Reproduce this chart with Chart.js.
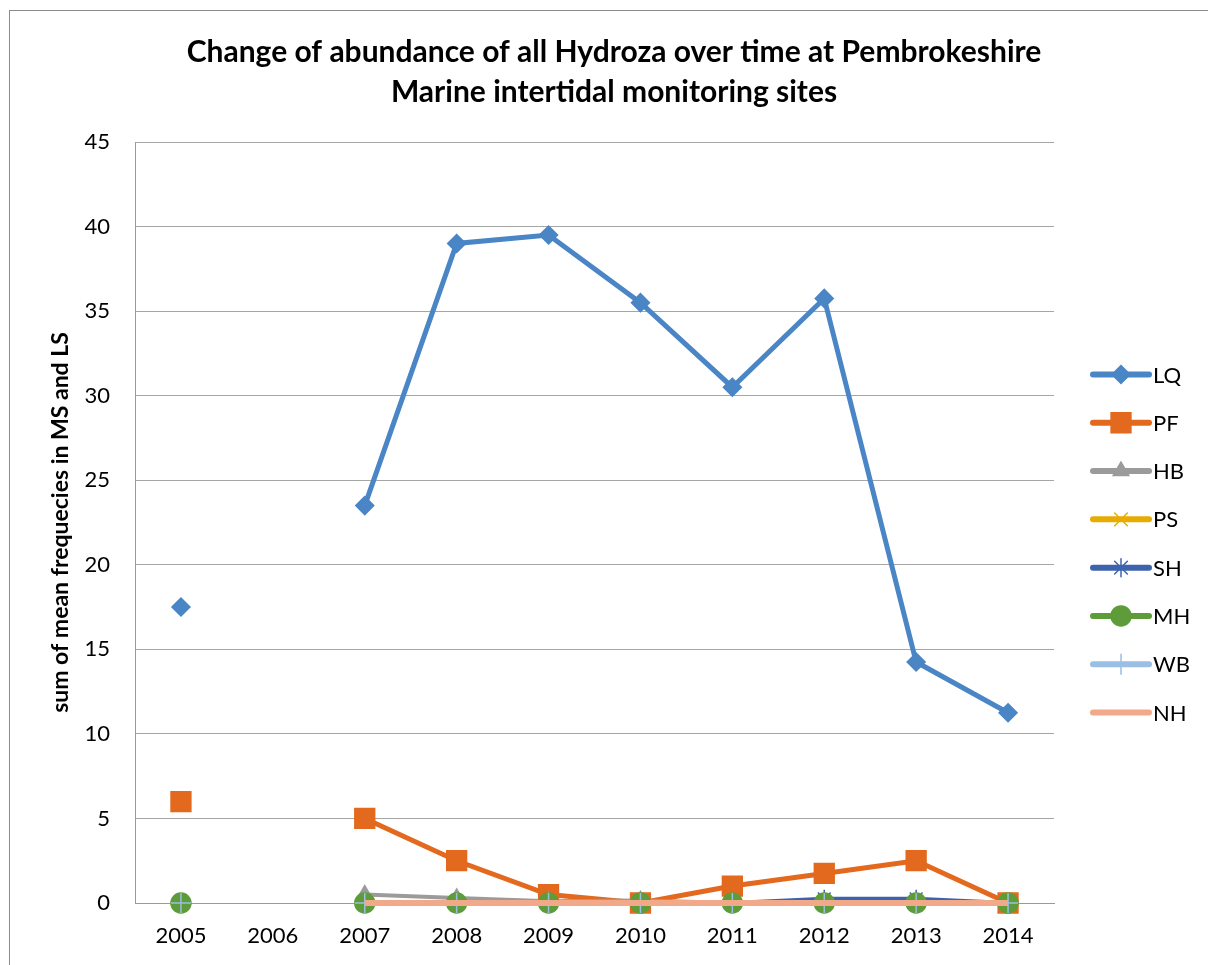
<!DOCTYPE html>
<html>
<head>
<meta charset="utf-8">
<title>Hydroza abundance</title>
<script src="https://cdn.jsdelivr.net/npm/chart.js@4.4.1/dist/chart.umd.min.js"></script>
<style>
  html, body { margin: 0; padding: 0; background: #fff; }
  canvas { display: block; }
</style>
</head>
<body>
<canvas id="chart" width="1208" height="965"></canvas>
<script>
// years on the x axis (2006 has no survey)
const years = ['2005', '2006', '2007', '2008', '2009', '2010', '2011', '2012', '2013', '2014'];

const LQ = [17.5, null, 23.5, 39, 39.5, 35.5, 30.5, 35.75, 14.25, 11.25];
const PF = [6, null, 5, 2.5, 0.5, 0, 1, 1.75, 2.5, 0];
const HB = [0, null, 0.5, 0.3, 0.1, 0.15, 0, 0, 0, 0];
const PS = [0, null, 0, 0, 0, 0, 0, 0, 0, 0];
const SH = [0, null, 0, 0, 0, 0, 0, 0.25, 0.25, 0];
const MH = [0, null, 0, 0, 0, 0, 0, 0, 0, 0];
const WB = [0, null, 0, 0, 0, 0, 0, 0, 0, 0];
const NH = [null, null, 0, 0, 0, 0, 0, 0, 0, 0];

const yTicks = [0, 5, 10, 15, 20, 25, 30, 35, 40, 45];

const FONT = 'Lato, "Open Sans", sans-serif';

function series(label, data, color, style, radius, width, order) {
    return {
        label: label,
        data: data,
        borderColor: color,
        backgroundColor: color,
        borderWidth: width,
        pointStyle: style,
        pointRadius: radius,
        pointHoverRadius: radius,
        pointBackgroundColor: color,
        pointBorderColor: color,
        pointBorderWidth: 1.5,
        spanGaps: false,
        tension: 0,
        clip: false,
        order: order
    };
}

// frame around the whole chart
const frame = {
    id: 'frame',
    beforeDraw(chart) {
        const ctx = chart.ctx;
        ctx.save();
        ctx.fillStyle = '#fff';
        ctx.fillRect(0, 0, chart.width, chart.height);
        ctx.strokeStyle = '#8c8c8c';
        ctx.lineWidth = 1;
        ctx.strokeRect(9.5, 10.5, chart.width + 20, chart.height + 20);
        ctx.restore();
    }
};

// excel style legend: line with marker in the middle
const lineLegend = {
    id: 'lineLegend',
    afterDraw(chart) {
        const ctx = chart.ctx;
        const area = chart.chartArea;
        const x0 = area.right + 39;
        const x1 = x0 + 56;
        const step = 48.3;
        const sets = chart.data.datasets;
        const top = (area.top + area.bottom) / 2 + 21 - step * (sets.length - 1) / 2;
        sets.forEach((ds, i) => {
            const y = top + i * step;
            ctx.save();
            ctx.strokeStyle = ds.borderColor;
            ctx.lineWidth = 6;
            ctx.lineCap = 'round';
            ctx.beginPath();
            ctx.moveTo(x0, y);
            ctx.lineTo(x1, y);
            ctx.stroke();
            if (ds.pointRadius > 0 && Chart.helpers && Chart.helpers.drawPoint) {
                ctx.fillStyle = ds.pointBackgroundColor;
                ctx.strokeStyle = ds.pointBorderColor;
                ctx.lineWidth = ds.pointBorderWidth;
                Chart.helpers.drawPoint(ctx, {
                    pointStyle: ds.pointStyle,
                    rotation: 0,
                    radius: ds.pointRadius,
                    borderWidth: ds.pointBorderWidth
                }, (x0 + x1) / 2, y);
            }
            ctx.fillStyle = '#000';
            ctx.font = '22px ' + FONT;
            ctx.textAlign = 'left';
            ctx.textBaseline = 'middle';
            ctx.fillText(ds.label, x1 + 4, y + 1);
            ctx.restore();
        });
    }
};

const ctx = document.getElementById('chart').getContext('2d');
const chart = new Chart(ctx, {
    type: 'line',
    data: {
        labels: years,
        datasets: [
            series('LQ', LQ, '#4A85C6', 'rectRot', 9, 5, 8),
            series('PF', PF, '#E2691D', 'rect', 14, 5, 7),
            series('HB', HB, '#9B9B9B', 'triangle', 9, 4, 6),
            series('PS', PS, '#E8AC00', 'crossRot', 9, 4, 5),
            series('SH', SH, '#3D63AE', 'star', 9, 4, 4),
            series('MH', MH, '#5E9C3A', 'circle', 10, 4, 3),
            series('WB', WB, '#9BBEE4', 'cross', 10, 4, 2),
            series('NH', NH, '#F2A98A', 'circle', 0, 6, 1)
        ]
    },
    options: {
        responsive: false,
        animation: false,
        layout: { padding: { left: 20, right: 0, top: 0, bottom: 0 } },
        plugins: {
            legend: { display: false },
            tooltip: { enabled: false },
            title: {
                display: true,
                text: ['Change of abundance of all Hydroza over time at Pembrokeshire',
                       'Marine intertidal monitoring sites'],
                color: '#000',
                font: { family: FONT, size: 30, weight: 'bold', lineHeight: 40 / 30 },
                padding: { top: 32, bottom: 30 }
            }
        },
        scales: {
            x: {
                type: 'category',
                offset: true,
                grid: { display: false, drawTicks: false },
                border: { display: true, color: '#9a9a9a', width: 1 },
                ticks: { color: '#000', padding: 20, font: { family: FONT, size: 22 }, maxRotation: 0 },
                afterFit(scale) { scale.height = 62; }
            },
            y: {
                min: 0,
                max: 45,
                afterBuildTicks(scale) { scale.ticks = yTicks.map(v => ({ value: v })); },
                grid: { color: '#a6a6a6', lineWidth: 1, drawTicks: false },
                border: { display: true, color: '#9a9a9a', width: 1 },
                ticks: { color: '#000', padding: 25, font: { family: FONT, size: 22 } },
                title: {
                    display: true,
                    text: 'sum of mean frequecies in MS and LS',
                    color: '#000',
                    font: { family: FONT, size: 23, weight: 'bold', lineHeight: 1.2 },
                    padding: { top: 27, bottom: 0 }
                },
                afterFit(scale) { scale.width = 115; }
            },
            // empty axis that keeps room for the legend on the right
            side: {
                position: 'right',
                display: true,
                grid: { display: false, drawTicks: false },
                border: { display: false },
                ticks: { display: false },
                afterFit(scale) { scale.width = 154; }
            }
        }
    },
    plugins: [frame, lineLegend]
});
</script>
</body>
</html>
